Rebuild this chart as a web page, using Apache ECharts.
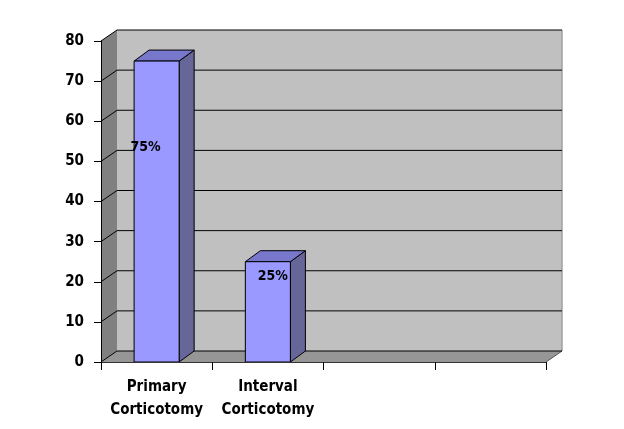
<!DOCTYPE html>
<html>
<head>
<meta charset="utf-8">
<script src="https://cdn.jsdelivr.net/npm/echarts@6/dist/echarts.min.js"></script>
<style>
html,body{margin:0;padding:0;background:#fff;}
#chart{width:624px;height:429px;}
</style>
</head>
<body>
<div id="chart"></div>
<script>
// ---- data ----
const categories = ['Primary\nCorticotomy', 'Interval\nCorticotomy', '', ''];
const values = [75, 25];
const valueLabels = ['75%', '25%'];
const yTicks = [0, 10, 20, 30, 40, 50, 60, 70, 80];

// ---- style constants ----
const WALL_DX = 16, WALL_DY = -11;   // depth of the back wall
const BAR_DX = 15, BAR_DY = -11;     // depth of the bars
const BAR_FRAC = 0.405;              // bar width as fraction of category band
const LABEL_OFF = [[-11, 86], [5, 15]]; // label offset from bar top centre (px)
const FONT = 'DejaVu Sans Condensed';

const chart = echarts.init(document.getElementById('chart'));

function renderWalls(params, api) {
  const cs = params.coordSys;
  const x0 = cs.x, x1 = cs.x + cs.width;
  const yb = api.coord([0, 0])[1];
  const yt = api.coord([0, yTicks[yTicks.length - 1]])[1];
  const children = [];
  children.push({type: 'polygon', shape: {points: [
    [x0 + WALL_DX, yt + WALL_DY], [x1 + WALL_DX, yt + WALL_DY],
    [x1 + WALL_DX, yb + WALL_DY], [x0 + WALL_DX, yb + WALL_DY]]},
    style: {fill: '#C0C0C0'}});
  children.push({type: 'line', shape: {x1: x1 + WALL_DX, y1: yt + WALL_DY, x2: x1 + WALL_DX, y2: yb + WALL_DY},
    style: {stroke: '#A0A0A0', lineWidth: 1.5}});
  children.push({type: 'polygon', shape: {points: [
    [x0, yt], [x0 + WALL_DX, yt + WALL_DY], [x0 + WALL_DX, yb + WALL_DY], [x0, yb]]},
    style: {fill: '#808080'}});
  children.push({type: 'polygon', shape: {points: [
    [x0, yb], [x0 + WALL_DX, yb + WALL_DY], [x1 + WALL_DX, yb + WALL_DY], [x1, yb]]},
    style: {fill: '#969696'}});
  children.push({type: 'line', shape: {x1: x1, y1: yb, x2: x1 + WALL_DX, y2: yb + WALL_DY},
    style: {stroke: '#555555', lineWidth: 1}});
  yTicks.forEach(function (v) {
    const y = api.coord([0, v])[1];
    children.push({type: 'polyline', shape: {points: [
      [x0, y], [x0 + WALL_DX, y + WALL_DY], [x1 + WALL_DX, y + WALL_DY]]},
      style: {stroke: '#000000', lineWidth: 1, fill: null}});
  });
  return {type: 'group', children: children};
}

function renderBar(params, api) {
  const idx = api.value(0);
  const val = api.value(1);
  const pb = api.coord([idx, 0]);
  const pt = api.coord([idx, val]);
  const band = api.size([1, 0])[0];
  const w = band * BAR_FRAC;
  const xl = pb[0] - w / 2, xr = pb[0] + w / 2;
  const yb = pb[1], yt = pt[1];
  const st = {stroke: '#000000', lineWidth: 1};
  const off = LABEL_OFF[params.dataIndex] || [0, 15];
  return {type: 'group', children: [
    {type: 'polygon', shape: {points: [[xr, yt], [xr + BAR_DX, yt + BAR_DY], [xr + BAR_DX, yb + BAR_DY], [xr, yb]]},
      style: Object.assign({fill: '#666699'}, st)},
    {type: 'polygon', shape: {points: [[xl, yt], [xl + BAR_DX, yt + BAR_DY], [xr + BAR_DX, yt + BAR_DY], [xr, yt]]},
      style: Object.assign({fill: '#7777CC'}, st)},
    {type: 'rect', shape: {x: xl, y: yt, width: w, height: yb - yt},
      style: Object.assign({fill: '#9999FF'}, st)},
    {type: 'text', x: pb[0] + off[0], y: yt + off[1],
      style: {text: valueLabels[params.dataIndex], fill: '#000', font: 'bold 14px "' + FONT + '"',
        textAlign: 'center', textVerticalAlign: 'middle'}}
  ]};
}

chart.setOption({
  animation: false,
  grid: {left: 101, right: 78, top: 41, bottom: 67},
  xAxis: {
    type: 'category',
    data: categories,
    z: 10,
    axisLine: {show: true, lineStyle: {color: '#333333', width: 1}},
    axisTick: {show: true, length: 8, lineStyle: {color: '#000'}},
    axisLabel: {color: '#000', fontFamily: FONT, fontWeight: 'bold', fontSize: 15, lineHeight: 23, margin: 14, interval: 0},
    splitLine: {show: false}
  },
  yAxis: {
    type: 'value',
    min: 0, max: 80, interval: 10,
    z: 10,
    axisLine: {show: true, lineStyle: {color: '#000', width: 1}},
    axisTick: {show: true, length: 7, lineStyle: {color: '#000'}},
    axisLabel: {color: '#000', fontFamily: FONT, fontWeight: 'bold', fontSize: 15, margin: 17},
    splitLine: {show: false}
  },
  series: [
    {type: 'custom', renderItem: renderWalls, data: [[0, 0]], clip: false, z: 1, silent: true},
    {type: 'custom', renderItem: renderBar, clip: false, z: 3,
      data: values.map(function (v, i) { return [i, v]; }), encode: {x: 0, y: 1}}
  ]
});
</script>
</body>
</html>
